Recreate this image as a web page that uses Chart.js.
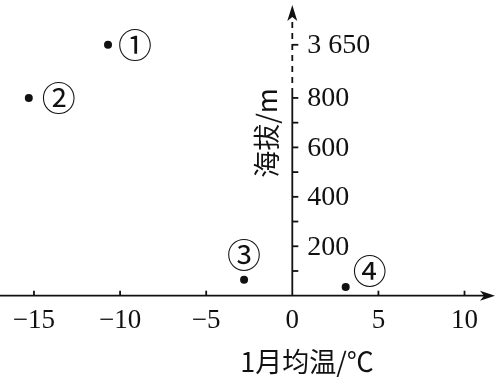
<!DOCTYPE html>
<html>
<head>
<meta charset="utf-8">
<script src="https://cdn.jsdelivr.net/npm/chart.js@4"></script>
<style>html,body{margin:0;padding:0;background:#fff}</style>
</head>
<body>
<canvas id="c" width="499" height="385"></canvas>
<script>
// Jan mean temperature vs elevation, four stations, y axis broken above 800 m
const pointNames = ['①', '②', '③', '④'];
const janTemps = [-10.7, -15.3, -2.8, 3.1];
const elevations = [3650, 800, 65, 35];
const xTicks = [-15, -10, -5, 5, 10];
const xTickLabels = ['−15', '−10', '−5', '5', '10'];
const yTicks = [200, 400, 600, 800, 3650];
const yTickLabels = ['200', '400', '600', '800', '3 650'];
const yMinorTicks = [100, 300, 500, 700];

const BREAK_AT = 800;
const BREAK_POS = 1015;
function axisPos(v) { return v > BREAK_AT ? BREAK_POS : v; }

const labelOffsets = [[27, 0], [30, 0], [0, -25], [24, -16]];
const X_FONT = '27px "Liberation Serif"';
const Y_FONT = '28px "Liberation Serif"';
const CJK_FONT = '27px "Noto Sans CJK SC"';

const axesPlugin = {
    id: 'crossAxes',
    beforeDatasetsDraw(chart) {
        const ctx = chart.ctx;
        const xs = chart.scales.x, ys = chart.scales.y;
        const x0 = xs.getPixelForValue(0), y0 = ys.getPixelForValue(0);
        ctx.save();
        ctx.strokeStyle = '#111';
        ctx.fillStyle = '#111';
        ctx.lineWidth = 1.8;

        // x axis + arrow
        ctx.beginPath();
        ctx.moveTo(0, y0);
        ctx.lineTo(486, y0);
        ctx.stroke();
        ctx.beginPath();
        ctx.moveTo(495, y0);
        ctx.lineTo(480, y0 - 5);
        ctx.lineTo(484, y0);
        ctx.lineTo(480, y0 + 5);
        ctx.closePath();
        ctx.fill();
        xTicks.forEach(v => {
            const px = xs.getPixelForValue(v);
            ctx.beginPath();
            ctx.moveTo(px, y0);
            ctx.lineTo(px, y0 - 5);
            ctx.stroke();
        });

        // y axis: solid to just above 800, dashed through the break, arrow on top
        const yTop800 = ys.getPixelForValue(BREAK_AT) - 4;
        ctx.beginPath();
        ctx.moveTo(x0, y0);
        ctx.lineTo(x0, yTop800);
        ctx.stroke();
        ctx.setLineDash([6, 5]);
        ctx.beginPath();
        ctx.moveTo(x0, yTop800);
        ctx.lineTo(x0, 20);
        ctx.stroke();
        ctx.setLineDash([]);
        ctx.beginPath();
        ctx.moveTo(x0, 5);
        ctx.lineTo(x0 - 5, 21);
        ctx.lineTo(x0, 17);
        ctx.lineTo(x0 + 5, 21);
        ctx.closePath();
        ctx.fill();
        yTicks.concat(yMinorTicks).forEach(v => {
            const py = ys.getPixelForValue(axisPos(v));
            ctx.beginPath();
            ctx.moveTo(x0, py);
            ctx.lineTo(x0 + 6, py);
            ctx.stroke();
        });

        // tick labels
        ctx.font = X_FONT;
        ctx.textAlign = 'center';
        ctx.textBaseline = 'middle';
        xTicks.forEach((v, i) => {
            ctx.fillText(xTickLabels[i], xs.getPixelForValue(v), y0 + 25);
        });
        ctx.fillText('0', x0, y0 + 25);
        ctx.font = Y_FONT;
        ctx.textAlign = 'left';
        yTicks.forEach((v, i) => {
            ctx.fillText(yTickLabels[i], x0 + 15, ys.getPixelForValue(axisPos(v)) + 1);
        });

        // axis titles
        ctx.font = CJK_FONT;
        ctx.textAlign = 'center';
        ctx.fillText('1月均温/℃', 307, 362);
        ctx.translate(267, 133);
        ctx.rotate(-Math.PI / 2);
        ctx.fillText('海拔/m', 0, 0);
        ctx.restore();
    },
    afterDatasetsDraw(chart) {
        const ctx = chart.ctx;
        const meta = chart.getDatasetMeta(0);
        ctx.save();
        ctx.fillStyle = '#111';
        ctx.font = '34px "Noto Sans CJK SC"';
        ctx.textAlign = 'center';
        ctx.textBaseline = 'middle';
        meta.data.forEach((pt, i) => {
            ctx.fillText(pointNames[i], pt.x + labelOffsets[i][0], pt.y + labelOffsets[i][1]);
        });
        ctx.restore();
    }
};

new Chart(document.getElementById('c'), {
    type: 'scatter',
    data: {
        datasets: [{
            data: janTemps.map((t, i) => ({ x: t, y: axisPos(elevations[i]) })),
            backgroundColor: '#111',
            borderWidth: 0,
            pointRadius: 4
        }]
    },
    options: {
        responsive: false,
        animation: false,
        layout: { padding: 0 },
        plugins: { legend: { display: false }, tooltip: { enabled: false } },
        scales: {
            x: { type: 'linear', display: false, min: -16.74, max: 11.77 },
            y: { type: 'linear', display: false, min: -345, max: 1180 }
        }
    },
    plugins: [axesPlugin]
});
</script>
</body>
</html>
